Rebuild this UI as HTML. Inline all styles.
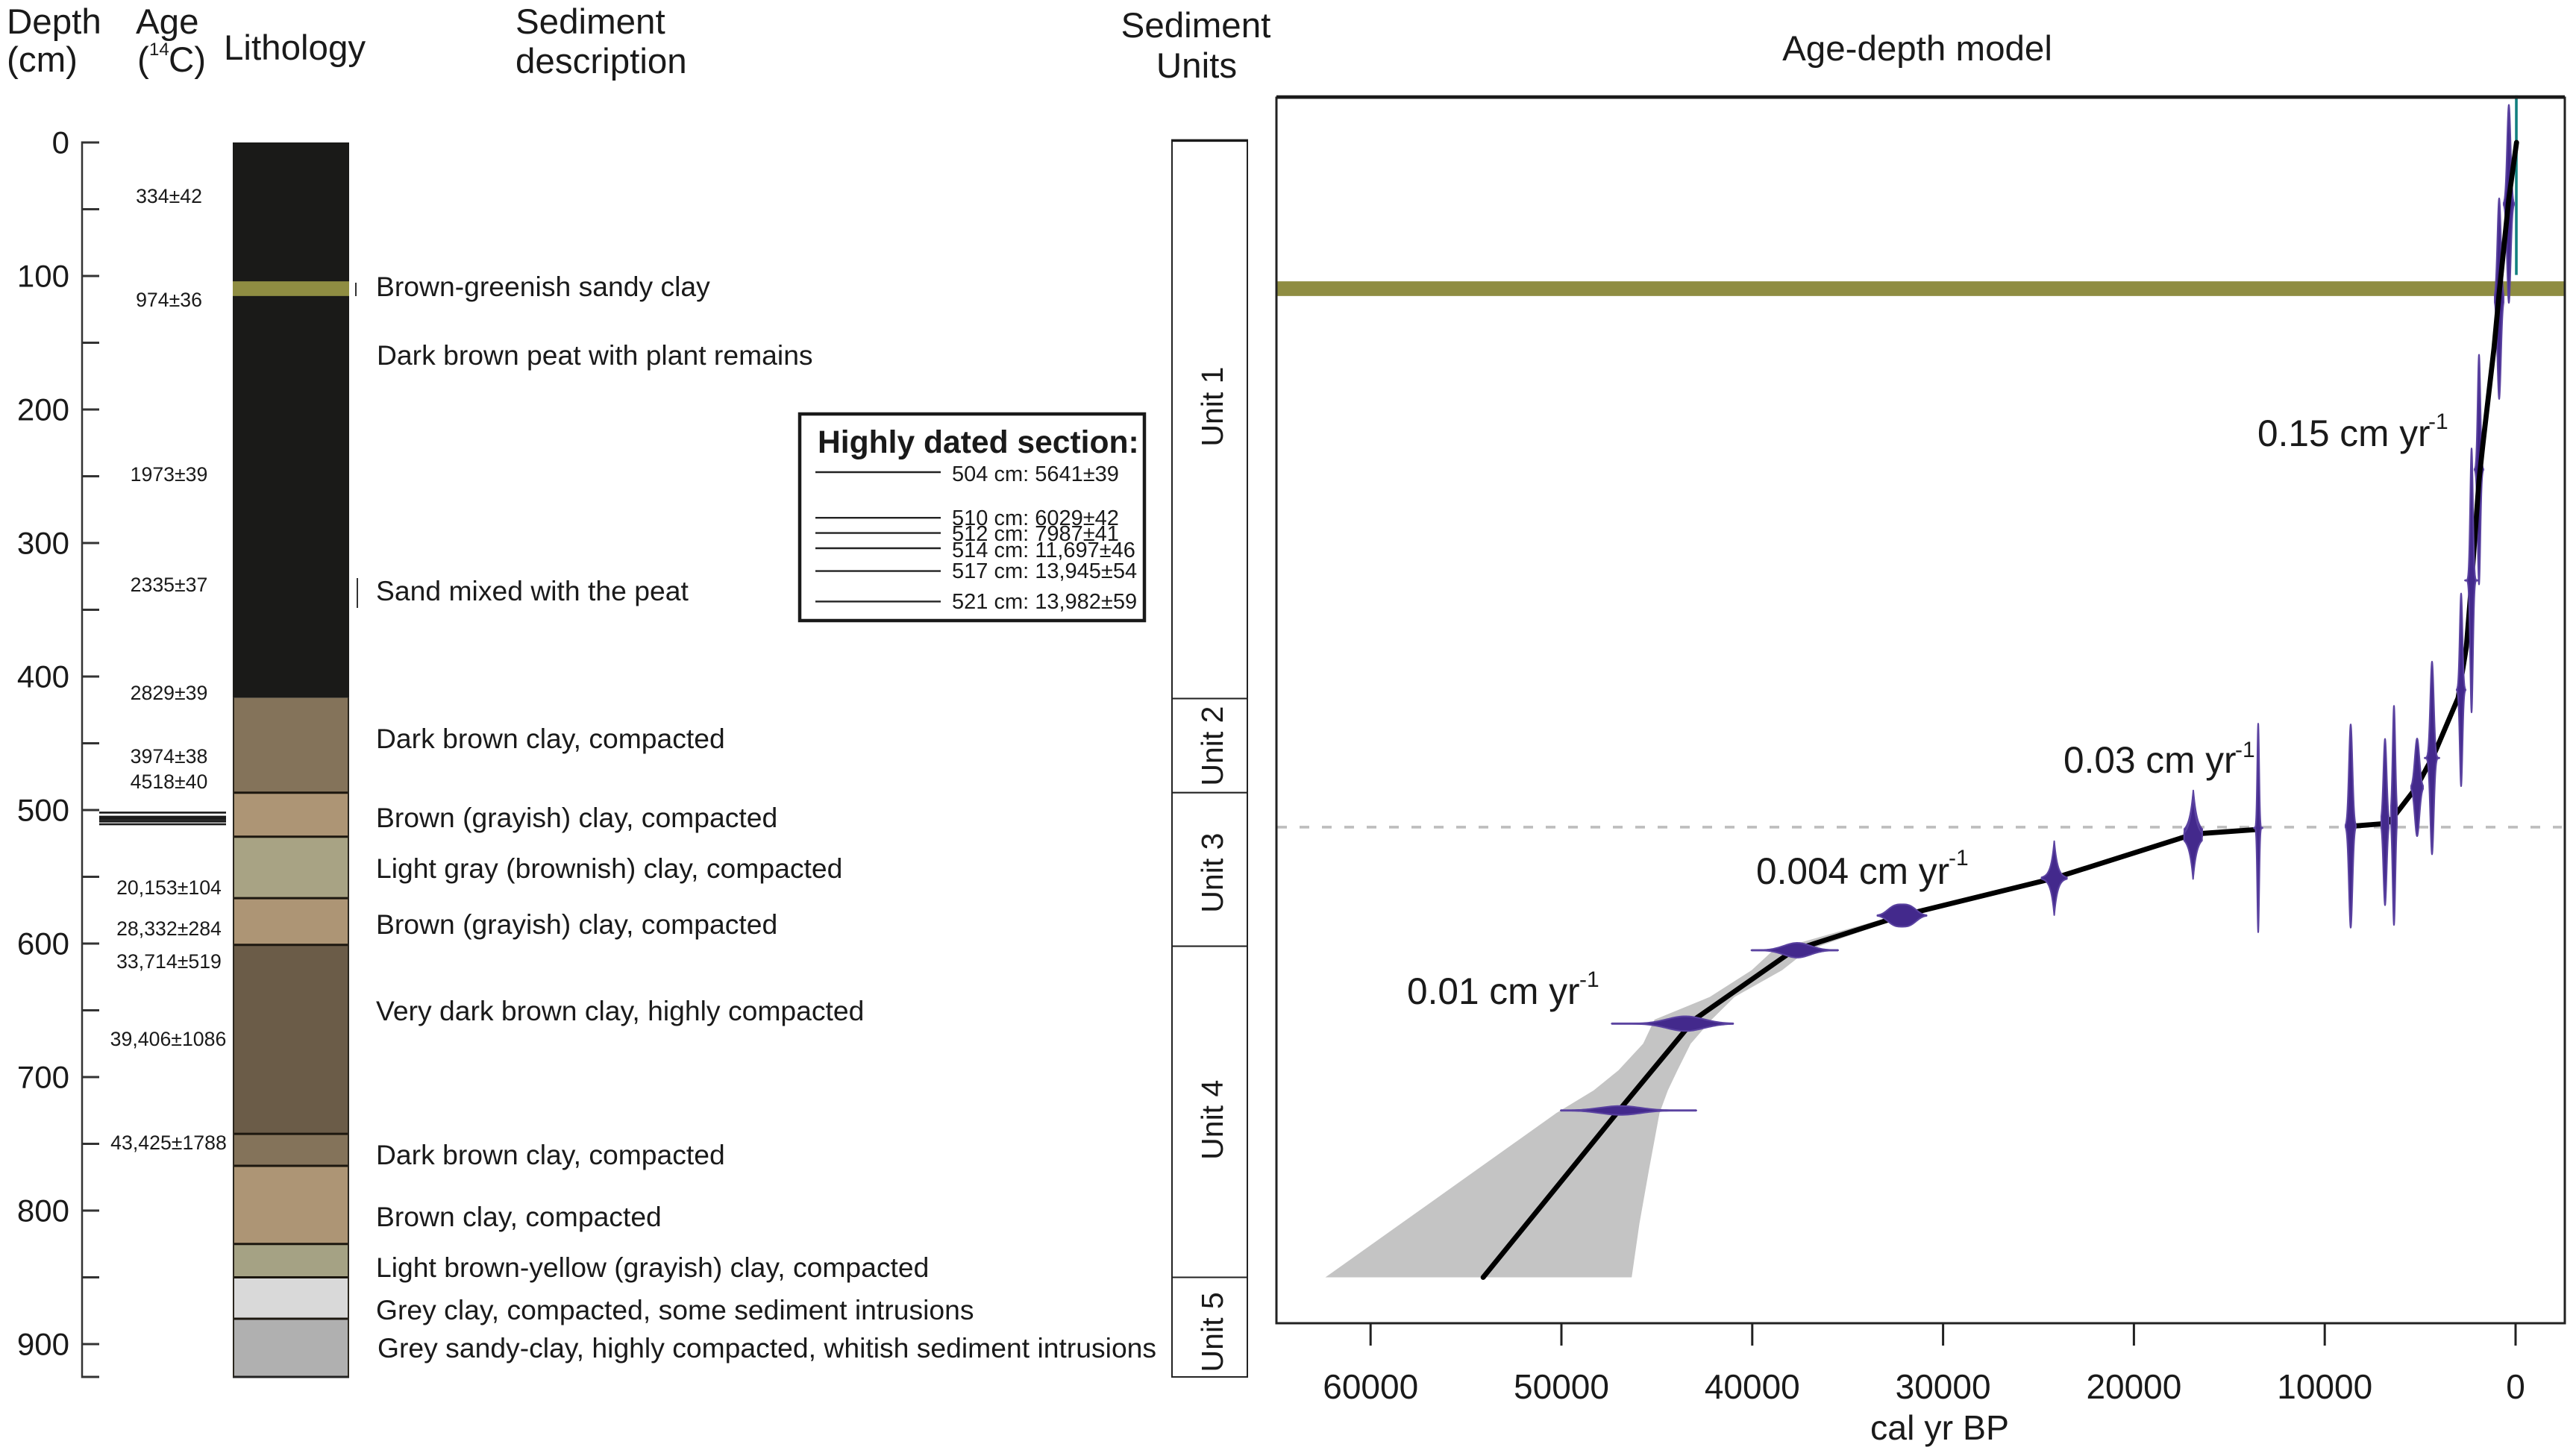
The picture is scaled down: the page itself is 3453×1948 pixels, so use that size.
<!DOCTYPE html>
<html lang="en">
<head>
<meta charset="utf-8">
<title>Sediment core lithology and age-depth model</title>
<style>
html,body{margin:0;padding:0;background:#fff;}
svg{display:block;font-family:"Liberation Sans",Arial,sans-serif;}
text{fill:#1a1a1a;}
.hd{font-size:47.5px;}
.age{font-size:26.7px;text-anchor:middle;}
.desc{font-size:37.3px;}
.rate{font-size:49.6px;}
.sup{font-size:30px;}
.ins{font-size:29px;}
</style>
</head>
<body>
<svg id="fig" xmlns="http://www.w3.org/2000/svg" width="3453" height="1948" viewBox="0 0 3453 1948">
  <rect x="0" y="0" width="3453" height="1948" fill="#ffffff"/>

  <g>
    <text class="hd" x="9" y="45">Depth</text>
    <text class="hd" x="9" y="96">(cm)</text>
    <text class="hd" x="182" y="45">Age</text>
    <text class="hd" x="184" y="96">(</text>
    <text x="200" y="74" font-size="24">14</text>
    <text class="hd" x="226" y="96">C)</text>
    <text class="hd" x="300" y="80">Lithology</text>
    <text class="hd" x="691" y="45">Sediment</text>
    <text class="hd" x="691" y="98">description</text>
    <text class="hd" x="1603" y="50" text-anchor="middle">Sediment</text>
    <text class="hd" x="1604" y="104" text-anchor="middle">Units</text>
    <text class="hd" x="2570" y="81" text-anchor="middle">Age-depth model</text>
  </g>

  <g id="depthAxis"></g>
  <g id="datedLines"></g>

  <g>
    <text class="age" x="226.5" y="272">334±42</text>
    <text class="age" x="226.5" y="411">974±36</text>
    <text class="age" x="226.5" y="645">1973±39</text>
    <text class="age" x="226.5" y="793">2335±37</text>
    <text class="age" x="226.5" y="938">2829±39</text>
    <text class="age" x="226.5" y="1023">3974±38</text>
    <text class="age" x="226.5" y="1057">4518±40</text>
    <text class="age" x="226.5" y="1199">20,153±104</text>
    <text class="age" x="226.5" y="1254">28,332±284</text>
    <text class="age" x="226.5" y="1298">33,714±519</text>
    <text class="age" x="225.5" y="1402">39,406±1086</text>
    <text class="age" x="226" y="1541">43,425±1788</text>
  </g>

  <g id="lithology"></g>

  <g>
    <line x1="477" y1="379" x2="477" y2="397" stroke="#333" stroke-width="2"/>
    <line x1="479" y1="775" x2="479" y2="815" stroke="#333" stroke-width="2"/>
    <text class="desc" x="504" y="397">Brown-greenish sandy clay</text>
    <text class="desc" x="505" y="489">Dark brown peat with plant remains</text>
    <text class="desc" x="504" y="805">Sand mixed with the peat</text>
    <text class="desc" x="504" y="1003">Dark brown clay, compacted</text>
    <text class="desc" x="504" y="1109">Brown (grayish) clay, compacted</text>
    <text class="desc" x="504" y="1177">Light gray (brownish) clay, compacted</text>
    <text class="desc" x="504" y="1252">Brown (grayish) clay, compacted</text>
    <text class="desc" x="504" y="1368">Very dark brown clay, highly compacted</text>
    <text class="desc" x="504" y="1561">Dark brown clay, compacted</text>
    <text class="desc" x="504" y="1644">Brown clay, compacted</text>
    <text class="desc" x="504" y="1712">Light brown-yellow (grayish) clay, compacted</text>
    <text class="desc" x="504" y="1769">Grey clay, compacted, some sediment intrusions</text>
    <text class="desc" x="506" y="1820">Grey sandy-clay, highly compacted, whitish sediment intrusions</text>
  </g>

  <g id="inset">
    <rect x="1072" y="555" width="462" height="277" fill="#fff" stroke="#1a1a1a" stroke-width="4.5"/>
    <text x="1096" y="607" font-size="42.6" font-weight="bold">Highly dated section:</text>
    <text class="ins" x="1276" y="645">504 cm: 5641±39</text>
    <text class="ins" x="1276" y="704">510 cm: 6029±42</text>
    <text class="ins" x="1276" y="725">512 cm: 7987±41</text>
    <text class="ins" x="1276" y="747">514 cm: 11,697±46</text>
    <text class="ins" x="1276" y="775">517 cm: 13,945±54</text>
    <text class="ins" x="1276" y="816">521 cm: 13,982±59</text>
  </g>

  <g id="units"></g>

  <g id="plot"></g>

  <g>
    <text class="rate" x="3026" y="598">0.15 cm yr</text>
    <text class="sup" x="3255" y="575">-1</text>
    <text class="rate" x="2766" y="1036">0.03 cm yr</text>
    <text class="sup" x="2996" y="1015">-1</text>
    <text class="rate" x="2354" y="1185">0.004 cm yr</text>
    <text class="sup" x="2612" y="1160">-1</text>
    <text class="rate" x="1886" y="1346">0.01 cm yr</text>
    <text class="sup" x="2117" y="1323">-1</text>
  </g>
</svg>

<script>
// ---- Data ----
const depthTicks = [0, 50, 100, 150, 200, 250, 300, 350, 400, 450, 500, 550, 600, 650, 700, 750, 800, 850, 900, 924.6];
const depthTickLabels = [0, 100, 200, 300, 400, 500, 600, 700, 800, 900];
const ageTickValues = [60000, 50000, 40000, 30000, 20000, 10000, 0];

const layerTops = [0, 416, 487, 520, 566, 601, 742.5, 766.5, 825, 850, 881];
const layerBottoms = [416, 487, 520, 566, 601, 742.5, 766.5, 825, 850, 881, 924.6];
const layerColors = ['#1a1a18', '#84735a', '#ad9575', '#a8a384', '#ad9575', '#6b5c48', '#84735a', '#ad9575', '#a5a284', '#d9d9d9', '#b0b0b0'];
const sandyClayTop = 104;
const sandyClayBottom = 115;

const unitNames = ['Unit 1', 'Unit 2', 'Unit 3', 'Unit 4', 'Unit 5'];
const unitTops = [-1.5, 416.5, 487, 602, 850];
const unitBottoms = [416.5, 487, 602, 850, 924.6];
const unitLabelDepths = [197.8, 452, 547, 732, 891];

const highlyDatedDepths = [504, 510, 512, 514, 517, 521];

// Model segments: the line is interrupted across the hiatus.
const modelUpperDepths = [0, 42, 113, 154, 227, 253, 328, 378, 416, 458, 483, 504, 510, 512];
const modelUpperAges = [-50, 350, 860, 1130, 1720, 1915, 2300, 2580, 3010, 4260, 5200, 6330, 6720, 8520];
const modelLowerDepths = [514.5, 518, 551, 579, 605, 657, 727, 850];
const modelLowerAges = [13490, 16870, 24170, 32150, 37840, 43040, 47100, 54100];

const bandDepths = [562, 579, 605, 620, 640, 657, 675, 695, 710, 727, 770, 810, 850];
const bandOld = [27300, 32500, 38900, 40033, 42230, 45120, 45720, 47014, 48310, 50265, 54497, 58433, 62370];
const bandYoung = [27100, 31900, 37100, 38437, 40930, 42130, 43225, 43922, 44420, 44860, 45420, 45915, 46316];

const dateDepths = [46, 117, 245, 328, 410, 461, 483, 504, 509, 512, 513.4, 517, 520, 551, 579, 605, 660, 725];
const dateAges = [352, 860, 1916, 2306, 2854, 4378, 5160, 6372, 6841, 8640, 13487, 16888, 16900, 24175, 32154, 37647, 43500, 46911];
const datePeaks = [0.75, 0.76, 0.87, 1, 0.73, 0.73, 0.37, 0.83, 0.63, 0.77, 0.79, 0.32, 0.32, 0.28, 0.085, 0.056, 0.056, 0.034];
const dateSpread = [130, 130, 100, 100, 100, 130, 170, 100, 120, 130, 70, 196, 196, 176, 850, 978, 1368, 1486];
const dateTailOld = [274, 235, 235, 352, 235, 391, 313, 156, 196, 274, 235, 470, 470, 665, 1290, 2400, 3870, 3127];
const dateTailYoung = [274, 235, 235, 352, 235, 391, 313, 156, 196, 274, 235, 470, 470, 665, 1290, 2150, 2502, 3987];

const modernAge = -40;
const modernDepth = 32;
const modernPeak = 0.68;

const hiatusDepth = 512;
const tephraTop = 104;
const tephraBottom = 115;

// ---- Axis functions ----
function depthY(d) { return 191 + 1.79 * d; }
function ageX(a) { return 3372 - 0.02558 * a; }
function densityPx(v) { return v * 177; }
function coreLineY(d) { return 1089.4 + (d - 504) * 0.92; }
function insetLineY(d) { return 633 + (d - 504) * 10.2; }

const NS = 'http://www.w3.org/2000/svg';
function make(parent, tag, attrs, text) {
  const el = document.createElementNS(NS, tag);
  for (const k in attrs) el.setAttribute(k, attrs[k]);
  if (text !== undefined) el.textContent = text;
  parent.appendChild(el);
  return el;
}

// ---- Depth axis ----
const depthAxis = document.getElementById('depthAxis');
const depthSpine = make(depthAxis, 'line', {x1: 110, x2: 110, y1: depthY(0) - 1.5, y2: depthY(924.6) + 1.5, stroke: '#333', 'stroke-width': 2.5});


depthTicks.forEach(function (d) {
  const tick = make(depthAxis, 'line', {x1: 110, x2: 133, y1: depthY(d), y2: depthY(d), stroke: '#333', 'stroke-width': 3});
  
  
});
depthTickLabels.forEach(function (d) {
  const label = make(depthAxis, 'text', {x: 93, y: depthY(d) + 14.5, 'text-anchor': 'end', 'font-size': 42}, String(d));
  
  
});

// ---- Dated section lines next to the core ----
const datedLines = document.getElementById('datedLines');
highlyDatedDepths.forEach(function (d) {
  const line = make(datedLines, 'line', {x1: 133, x2: 303, y1: coreLineY(d), y2: coreLineY(d), stroke: '#1a1a1a', 'stroke-width': 2.6});
  
  
});

// ---- Inset leader lines ----
const inset = document.getElementById('inset');
highlyDatedDepths.forEach(function (d) {
  const line = make(inset, 'line', {x1: 1093, x2: 1261, y1: insetLineY(d), y2: insetLineY(d), stroke: '#222', 'stroke-width': 2.4});
  
  
});

// ---- Lithology ----
const lith = document.getElementById('lithology');
layerTops.forEach(function (top, i) {
  const y0 = depthY(top);
  const y1 = depthY(layerBottoms[i]);
  const layer = make(lith, 'rect', {x: 312, y: y0, width: 156, height: y1 - y0, fill: layerColors[i]});
  
  
});
const lithBand = make(lith, 'rect', {x: 312, y: depthY(sandyClayTop), width: 156, height: depthY(sandyClayBottom) - depthY(sandyClayTop), fill: '#8f8d42'});


layerBottoms.forEach(function (b, i) {
  if (i === 0) return;
  const sep = make(lith, 'line', {x1: 312, x2: 468, y1: depthY(b), y2: depthY(b), stroke: i === 10 ? '#222' : '#1c170f', 'stroke-width': 3});
  
  
});
[313, 467].forEach(function (x) {
  const edge = make(lith, 'line', {x1: x, x2: x, y1: depthY(layerTops[1]), y2: depthY(924.6), stroke: '#2a261e', 'stroke-width': 2});
  
  
});

// ---- Sediment units ----
const units = document.getElementById('units');
unitNames.forEach(function (name, i) {
  const y0 = depthY(unitTops[i]);
  const y1 = depthY(unitBottoms[i]);
  const box = make(units, 'rect', {x: 1571, y: y0, width: 101, height: y1 - y0, fill: '#fff', stroke: '#222', 'stroke-width': 2});
  
  
  const cy = depthY(unitLabelDepths[i]);
  const label = make(units, 'text', {x: 1639, y: cy, 'text-anchor': 'middle', 'font-size': 41, transform: 'rotate(-90 1639 ' + cy + ')'}, name);
  
  
});
const unitsTop = make(units, 'line', {x1: 1570, x2: 1673, y1: depthY(unitTops[0]), y2: depthY(unitTops[0]), stroke: '#1a1a1a', 'stroke-width': 3.5});



// ---- Age-depth plot ----
const plot = document.getElementById('plot');
const plotLeft = 1711, plotRight = 3438, plotTop = 131, plotBottom = 1774;

const tephra = make(plot, 'rect', {x: plotLeft, y: depthY(tephraTop), width: plotRight - plotLeft, height: depthY(tephraBottom) - depthY(tephraTop), fill: '#8f8d42'});



const bandPts = [];
bandDepths.forEach(function (d, i) { bandPts.push(ageX(bandOld[i]).toFixed(1) + ',' + depthY(d).toFixed(1)); });
for (let i = bandDepths.length - 1; i >= 0; i--) { bandPts.push(ageX(bandYoung[i]).toFixed(1) + ',' + depthY(bandDepths[i]).toFixed(1)); }
const band = make(plot, 'polygon', {points: bandPts.join(' '), fill: '#c4c4c4'});



const hiatus = make(plot, 'line', {x1: plotLeft + 1, x2: plotRight - 4, y1: depthY(hiatusDepth) + 1.5, y2: depthY(hiatusDepth) + 1.5, stroke: '#bdbdbd', 'stroke-width': 3.6, 'stroke-dasharray': '13 17'});



const modern = make(plot, 'line', {x1: ageX(modernAge), x2: ageX(modernAge), y1: depthY(modernDepth) - densityPx(modernPeak), y2: depthY(modernDepth) + densityPx(modernPeak), stroke: '#12807f', 'stroke-width': 3.6});



function drawDate(i) {
  const age = dateAges[i], sigma = dateSpread[i], peak = datePeaks[i];
  const old = dateTailOld[i], young = dateTailYoung[i];
  const cy = depthY(dateDepths[i]);
  const power = peak >= 0.36 ? 2 : (peak > 0.2 ? 1 : (peak >= 0.08 ? 3 : 2));
  const top = [], bottom = [];
  const n = 40;
  for (let s = -n; s <= n; s++) {
    const a = age + (s < 0 ? young : old) * s / n;
    const h = densityPx(peak) * Math.exp(-Math.pow(Math.abs(a - age) / sigma, power));
    top.push(ageX(a).toFixed(2) + ',' + (cy - h).toFixed(2));
    bottom.unshift(ageX(a).toFixed(2) + ',' + (cy + h).toFixed(2));
  }
  const tailLine = make(plot, 'line', {x1: ageX(age + old), x2: ageX(age - young), y1: cy, y2: cy, stroke: '#6d58ac', 'stroke-width': 3});
  
  
  const shape = make(plot, 'polygon', {points: top.concat(bottom).join(' '), fill: '#43298c', stroke: '#5a42a0', 'stroke-width': 2, 'stroke-linejoin': 'round'});
  
  
}

// Upper dates sit beneath the model line, the rest above it.
dateDepths.forEach(function (d, i) { if (d < 300) drawDate(i); });

const modelUpperPts = modelUpperDepths.map(function (d, i) { return ageX(modelUpperAges[i]).toFixed(1) + ',' + depthY(d).toFixed(1); }).join(' ');
const modelUpper = make(plot, 'polyline', {points: modelUpperPts, fill: 'none', stroke: '#000', 'stroke-width': 6.8, 'stroke-linejoin': 'round', 'stroke-linecap': 'round'});



const modelLowerPts = modelLowerDepths.map(function (d, i) { return ageX(modelLowerAges[i]).toFixed(1) + ',' + depthY(d).toFixed(1); }).join(' ');
const modelLower = make(plot, 'polyline', {points: modelLowerPts, fill: 'none', stroke: '#000', 'stroke-width': 6.8, 'stroke-linejoin': 'round', 'stroke-linecap': 'round'});



dateDepths.forEach(function (d, i) { if (d >= 300) drawDate(i); });

const frame = make(plot, 'rect', {x: plotLeft, y: plotTop, width: plotRight - plotLeft, height: plotBottom - plotTop, fill: 'none', stroke: '#222', 'stroke-width': 3});


const frameTop = make(plot, 'line', {x1: plotLeft, x2: plotRight, y1: plotTop - 1, y2: plotTop - 1, stroke: '#1a1a1a', 'stroke-width': 4.5});



ageTickValues.forEach(function (a) {
  const x = ageX(a);
  const tick = make(plot, 'line', {x1: x, x2: x, y1: plotBottom, y2: 1804, stroke: '#222', 'stroke-width': 3});
  
  
  const label = make(plot, 'text', {x: x, y: 1875, 'text-anchor': 'middle', 'font-size': 46}, String(a));
  
  
});
const xTitle = make(plot, 'text', {x: 2600, y: 1930, 'text-anchor': 'middle', 'font-size': 46.5}, 'cal yr BP');


</script>
</body>
</html>
